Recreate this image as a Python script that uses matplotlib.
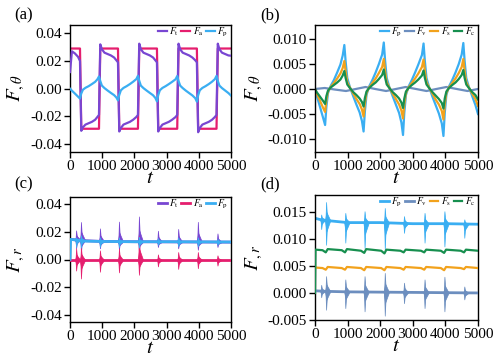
import numpy as np
import matplotlib
matplotlib.use("Agg")
import matplotlib.pyplot as plt
from matplotlib.ticker import FormatStrFormatter

plt.rcParams['font.family'] = ['Liberation Serif', 'DejaVu Serif']
plt.rcParams['mathtext.fontset'] = 'stix'

# colours
c_t = '#7846D2'
c_a = '#E51E6E'
c_p = '#3AAEF2'
c_v = '#6C8EBF'
c_s = '#F2A21C'
c_c = '#178F4F'

# ---------- panels (a) and (b): F_theta ----------
t_ab = [0, 60, 150, 250, 310,
        350, 400, 480, 580, 680, 780, 850, 900,
        940, 990, 1070, 1170, 1270, 1370, 1440, 1490,
        1530, 1580, 1660, 1760, 1860, 1960, 2060, 2110,
        2150, 2200, 2280, 2380, 2480, 2580, 2650, 2700,
        2740, 2790, 2870, 2970, 3070, 3170, 3280, 3330,
        3370, 3420, 3500, 3600, 3700, 3800, 3890, 3940,
        3980, 4030, 4110, 4210, 4310, 4410, 4500, 4550,
        4590, 4640, 4720, 4820, 4920, 5000]

Ft_theta = [0.012, 0.027, 0.0255, 0.023, 0.020,
            -0.0305, -0.028, -0.026, -0.025, -0.024, -0.0225, -0.0205, -0.019,
            0.032, 0.0285, 0.026, 0.025, 0.024, 0.0225, 0.0205, 0.019,
            -0.031, -0.0285, -0.026, -0.025, -0.024, -0.0225, -0.0205, -0.019,
            0.0325, 0.0285, 0.026, 0.025, 0.024, 0.0225, 0.0205, 0.019,
            -0.031, -0.0285, -0.026, -0.025, -0.024, -0.0225, -0.0205, -0.019,
            0.0325, 0.0285, 0.026, 0.025, 0.024, 0.0225, 0.0205, 0.019,
            -0.0315, -0.0285, -0.026, -0.025, -0.024, -0.0225, -0.0205, -0.019,
            0.0325, 0.0285, 0.026, 0.025, 0.024, 0.0238]

Fp_theta = [0.0, -0.0015, -0.0035, -0.0058, -0.0072,
            -0.0035, -0.0008, 0.0006, 0.0018, 0.0033, 0.0049, 0.0067, 0.0088,
            0.0055, 0.0022, 0.0004, -0.0014, -0.0031, -0.0047, -0.0064, -0.0085,
            -0.0045, -0.0012, 0.0005, 0.0018, 0.0033, 0.005, 0.0069, 0.0093,
            0.0057, 0.0022, 0.0004, -0.0014, -0.0031, -0.0048, -0.0067, -0.0092,
            -0.0047, -0.0012, 0.0005, 0.0018, 0.0033, 0.0049, 0.0068, 0.0091,
            0.0056, 0.0022, 0.0004, -0.0015, -0.0032, -0.0049, -0.0069, -0.0094,
            -0.0048, -0.0012, 0.0005, 0.0018, 0.0033, 0.005, 0.0069, 0.0092,
            0.0056, 0.0022, 0.0004, -0.0014, -0.0032, -0.005]

Fs_theta = [0.0, -0.001, -0.0023, -0.0038, -0.0046,
            -0.0022, -0.0005, 0.0004, 0.0012, 0.0021, 0.0031, 0.0042, 0.0056,
            0.0035, 0.0014, 0.0003, -0.0009, -0.002, -0.003, -0.0041, -0.0055,
            -0.0029, -0.0008, 0.0003, 0.0012, 0.0021, 0.0032, 0.0044, 0.006,
            0.0036, 0.0014, 0.0003, -0.0009, -0.002, -0.0031, -0.0043, -0.0059,
            -0.003, -0.0008, 0.0003, 0.0012, 0.0021, 0.0031, 0.0044, 0.0059,
            0.0036, 0.0014, 0.0003, -0.0009, -0.0021, -0.0031, -0.0044, -0.0061,
            -0.0031, -0.0008, 0.0003, 0.0012, 0.0021, 0.0032, 0.0044, 0.006,
            0.0036, 0.0014, 0.0003, -0.0009, -0.002, -0.0034]

Fc_theta = [0.0, -0.0007, -0.0015, -0.0024, -0.003,
            -0.0014, -0.0003, 0.0003, 0.0008, 0.0013, 0.0019, 0.0027, 0.0036,
            0.0022, 0.0009, 0.0002, -0.0006, -0.0012, -0.0019, -0.0026, -0.0035,
            -0.0018, -0.0005, 0.0002, 0.0008, 0.0013, 0.002, 0.0028, 0.0039,
            0.0023, 0.0009, 0.0002, -0.0006, -0.0012, -0.0019, -0.0027, -0.0038,
            -0.0019, -0.0005, 0.0002, 0.0008, 0.0013, 0.0019, 0.0027, 0.0037,
            0.0022, 0.0009, 0.0002, -0.0006, -0.0013, -0.002, -0.0028, -0.0039,
            -0.0019, -0.0005, 0.0002, 0.0008, 0.0013, 0.002, 0.0028, 0.0038,
            0.0022, 0.0009, 0.0002, -0.0006, -0.0012, -0.0021]

t_fa = [0, 310, 350, 900, 940, 1490, 1530, 2110, 2150, 2700, 2740,
        3330, 3370, 3940, 3980, 4550, 4590, 5000]
Fa_theta = [0.029, 0.029, -0.029, -0.029, 0.029, 0.029, -0.029, -0.029, 0.029,
            0.029, -0.029, -0.029, 0.029, 0.029, -0.029, -0.029, 0.029, 0.029]

t_fv = [0, 300, 600, 950, 1250, 1550, 1850, 2180, 2480, 2780, 3100,
        3420, 3720, 4030, 4350, 4680, 5000]
Fv_theta = [0.0, 0.0002, -0.0001, -0.0004, 0.0, 0.0004, 0.0, -0.0004, 0.0,
            0.0004, 0.0, -0.0004, 0.0, 0.0004, 0.0, -0.0004, 0.0]

# ---------- panels (c) and (d): F_r ----------
burst_t = [180, 330, 920, 1510, 2130, 2720, 3350, 3960, 4570]

t_base_c = [0, 500, 1000, 2000, 3000, 4000, 5000]
Ft_r_base = [0.0145, 0.0135, 0.013, 0.0128, 0.0127, 0.0126, 0.0125]
Ft_r_top = [0.021, 0.027, 0.0224, 0.0273, 0.031, 0.0207, 0.022, 0.0271, 0.0188]
Ft_r_bot = [0.008, 0.005, 0.008, 0.007, 0.006, 0.009, 0.008, 0.007, 0.009]

t_fa_r = [0, 5000]
Fa_r_base = [-0.0003, -0.0003]
Fa_r_top = [0.008, 0.009, 0.0066, 0.0078, 0.017, 0.0037, 0.0054, 0.0054, 0.003]
Fa_r_bot = [-0.008, -0.0137, -0.0088, -0.0093, -0.011, -0.005, -0.0068, -0.0063, -0.0044]

t_fp_c = [0, 20, 500, 1000, 2000, 3000, 4000, 5000]
Fp_r_c_base = [0.0, 0.0145, 0.0132, 0.013, 0.0128, 0.0128, 0.0127, 0.0126]
Fp_r_c_top = [0.016, 0.0175, 0.016, 0.016, 0.0165, 0.0155, 0.016, 0.016, 0.015]
Fp_r_c_bot = [0.009, 0.0085, 0.009, 0.009, 0.0085, 0.0105, 0.0095, 0.0095, 0.0105]

t_fp_d = [0, 200, 500, 1000, 2000, 3000, 4000, 5000]
Fp_r_d_base = [0.0138, 0.0135, 0.0133, 0.013, 0.013, 0.0128, 0.0128, 0.0127]
Fp_r_d_top = [0.0145, 0.0168, 0.0148, 0.0151, 0.0157, 0.0142, 0.0148, 0.0151, 0.0136]
Fp_r_d_bot = [0.0118, 0.0089, 0.0093, 0.0083, 0.008, 0.0111, 0.0093, 0.0086, 0.0102]

t_fv_d = [0, 300, 1000, 3000, 5000]
Fv_r_base = [0.0004, 0.0003, 0.0002, 0.0001, 0.0]
Fv_r_top = [0.0015, 0.0031, 0.0025, 0.0031, 0.0037, 0.0019, 0.0025, 0.003, 0.0012]
Fv_r_bot = [-0.0008, -0.0031, -0.0028, -0.0034, -0.0042, -0.0019, -0.0028, -0.0034, -0.0012]

t_sd = [0, 230, 330, 390, 820, 920, 980, 1410, 1510, 1570, 2030, 2130, 2190,
        2620, 2720, 2780, 3250, 3350, 3410, 3860, 3960, 4020, 4470, 4570, 4630, 5000]
Fs_r = [0.0047, 0.0046, 0.0043, 0.0048, 0.0046, 0.0043, 0.0048, 0.0046, 0.0042,
        0.0048, 0.0046, 0.0042, 0.0048, 0.0046, 0.0043, 0.0048, 0.0046, 0.0043,
        0.0048, 0.0046, 0.0042, 0.0048, 0.0046, 0.0044, 0.0048, 0.0046]

t_cd = [0, 15, 230, 330, 390, 820, 920, 980, 1410, 1510, 1570, 2030, 2130, 2190,
        2620, 2720, 2780, 3250, 3350, 3410, 3860, 3960, 4020, 4470, 4570, 4630, 5000]
Fc_r = [0.0, 0.0080, 0.0079, 0.0075, 0.0081, 0.0079, 0.0075, 0.0081, 0.0078,
        0.0074, 0.0081, 0.0078, 0.0073, 0.0080, 0.0078, 0.0075, 0.0080, 0.0078,
        0.0075, 0.0080, 0.0078, 0.0074, 0.0080, 0.0078, 0.0075, 0.0080, 0.0078]


def bursts(ax, tb, vb, top, bot, color, z):
    # dense ringing after each switch: thin tall spike plus a shorter skirt
    for t0, hi, lo in zip(burst_t, top, bot):
        base = np.interp(t0, tb, vb)
        ax.fill_between([t0 - 10, t0 + 10, t0 + 45], [base, hi, base],
                        [base, lo, base], color=color, lw=0.5, edgecolor=color,
                        zorder=z)
        h2 = base + 0.45 * (hi - base)
        l2 = base + 0.45 * (lo - base)
        ax.fill_between([t0 - 25, t0 + 20, t0 + 140], [base, h2, base],
                        [base, l2, base], color=color, lw=0.5, edgecolor=color,
                        zorder=z)


def style(ax, ylim, ticks, fmt, ylab):
    ax.set_xlim(0, 5000)
    ax.set_ylim(*ylim)
    ax.set_xticks([0, 1000, 2000, 3000, 4000, 5000])
    ax.set_yticks(ticks)
    ax.yaxis.set_major_formatter(FormatStrFormatter(fmt))
    ax.tick_params(direction='out', length=4, width=1, labelsize=11, pad=2)
    for s in ax.spines.values():
        s.set_linewidth(1)
    ax.set_ylabel(ylab, fontsize=15, labelpad=2)
    ax.set_xlabel('$t$', fontsize=15, labelpad=-3)


def legend(ax, n):
    ax.legend(loc='upper right', bbox_to_anchor=(1.02, 1.04), ncol=n,
              frameon=False, fontsize=7, handlelength=0.9, handletextpad=0.25,
              columnspacing=0.25, borderaxespad=0.2)


fig = plt.figure(figsize=(5, 3.59), dpi=100)
ax_a = fig.add_axes([70 / 500, 1 - 152 / 359, 161 / 500, 127 / 359])
ax_b = fig.add_axes([315 / 500, 1 - 152 / 359, 163 / 500, 127 / 359])
ax_c = fig.add_axes([70 / 500, 1 - 322 / 359, 161 / 500, 125 / 359])
ax_d = fig.add_axes([315 / 500, 1 - 320 / 359, 163 / 500, 125 / 359])

lw = 1.6
# (a)
ax_a.plot(t_ab, Ft_theta, color=c_t, lw=lw, label=r'$F_\mathrm{t}$', zorder=3)
ax_a.plot(t_fa, Fa_theta, color=c_a, lw=lw, label=r'$F_\mathrm{a}$', zorder=2)
ax_a.plot(t_ab, Fp_theta, color=c_p, lw=lw, label=r'$F_\mathrm{p}$', zorder=4)
style(ax_a, (-0.0458, 0.046), [-0.04, -0.02, 0.0, 0.02, 0.04], '%.2f',
      r'$F_{,\theta}$')
legend(ax_a, 3)

# (b)
ax_b.plot(t_ab, Fp_theta, color=c_p, lw=lw, label=r'$F_\mathrm{p}$')
ax_b.plot(t_fv, Fv_theta, color=c_v, lw=lw, label=r'$F_\mathrm{v}$')
ax_b.plot(t_ab, Fs_theta, color=c_s, lw=lw, label=r'$F_\mathrm{s}$')
ax_b.plot(t_ab, Fc_theta, color=c_c, lw=lw, label=r'$F_\mathrm{c}$')
style(ax_b, (-0.0126, 0.0128), [-0.010, -0.005, 0.0, 0.005, 0.010], '%.3f',
      r'$F_{,\theta}$')
legend(ax_b, 4)

# (c)
ax_c.plot(t_base_c, Ft_r_base, color=c_t, lw=2, label=r'$F_\mathrm{t}$', zorder=2)
bursts(ax_c, t_base_c, Ft_r_base, Ft_r_top, Ft_r_bot, c_t, 2)
ax_c.plot(t_fa_r, Fa_r_base, color=c_a, lw=2, label=r'$F_\mathrm{a}$', zorder=3)
bursts(ax_c, t_fa_r, Fa_r_base, Fa_r_top, Fa_r_bot, c_a, 3)
ax_c.plot(t_fp_c, Fp_r_c_base, color=c_p, lw=2, label=r'$F_\mathrm{p}$', zorder=4)
bursts(ax_c, t_fp_c, Fp_r_c_base, Fp_r_c_top, Fp_r_c_bot, c_p, 4)
style(ax_c, (-0.045, 0.045), [-0.04, -0.02, 0.0, 0.02, 0.04], '%.2f',
      r'$F_{,r}$')
legend(ax_c, 3)

# (d)
ax_d.plot(t_fp_d, Fp_r_d_base, color=c_p, lw=2, label=r'$F_\mathrm{p}$', zorder=2)
bursts(ax_d, t_fp_d, Fp_r_d_base, Fp_r_d_top, Fp_r_d_bot, c_p, 2)
ax_d.plot(t_fv_d, Fv_r_base, color=c_v, lw=2, label=r'$F_\mathrm{v}$', zorder=3)
bursts(ax_d, t_fv_d, Fv_r_base, Fv_r_top, Fv_r_bot, c_v, 3)
ax_d.plot(t_sd, Fs_r, color=c_s, lw=lw, label=r'$F_\mathrm{s}$', zorder=4)
ax_d.plot(t_cd, Fc_r, color=c_c, lw=lw, label=r'$F_\mathrm{c}$', zorder=5)
style(ax_d, (-0.005, 0.0181), [-0.005, 0.0, 0.005, 0.010, 0.015], '%.3f',
      r'$F_{,r}$')
legend(ax_d, 4)

for lab, x, y in [('(a)', 14, 15), ('(b)', 260, 15), ('(c)', 14, 184), ('(d)', 260, 184)]:
    fig.text(x / 500, 1 - y / 359, lab, fontsize=12, ha='left', va='center')

fig.savefig('out.png', dpi=100)
